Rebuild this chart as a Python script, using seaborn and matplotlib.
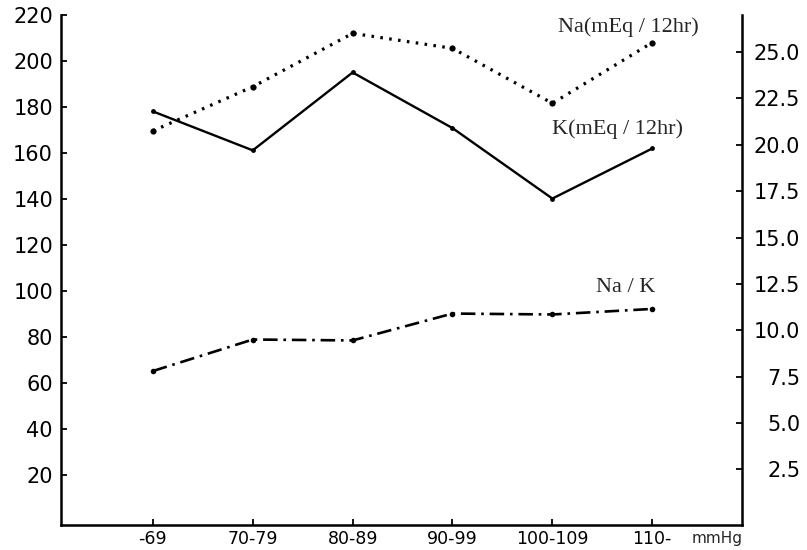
import numpy as np
import pandas as pd
import matplotlib
matplotlib.use("Agg")
import matplotlib.pyplot as plt
import seaborn as sns

# ---------------- data ----------------
groups = ["-69", "70-79", "80-89", "90-99", "100-109", "110-"]
na_meq = [169.6, 188.8, 212.0, 205.5, 181.6, 208.0]      # left axis
k_meq = [21.8, 19.7, 23.9, 20.9, 17.1, 19.8]             # right axis
na_k_ratio = [7.8, 9.5, 9.45, 10.9, 10.85, 11.15]        # right axis

left_ticks = [20, 40, 60, 80, 100, 120, 140, 160, 180, 200, 220]
right_ticks = [2.5, 5.0, 7.5, 10.0, 12.5, 15.0, 17.5, 20.0, 22.5, 25.0]

df = pd.DataFrame({"group": groups, "Na": na_meq, "K": k_meq, "NaK": na_k_ratio})

# ---------------- style ----------------
sns.set_style("ticks")
plt.rcParams["font.family"] = ["DejaVu Sans"]

fig = plt.figure(figsize=(8.07, 5.5), dpi=100)
ax = fig.add_axes([0.0756, 0.0455, 0.844, 0.9273])
ax2 = ax.twinx()

# Na (dotted, left axis)
sns.lineplot(data=df, x="group", y="Na", ax=ax, color="black", lw=2.3,
             marker="o", markersize=4.5, markeredgewidth=0, sort=False)
ax.lines[-1].set_dashes([0.8, 2.0])

# K (solid, right axis)
sns.lineplot(data=df, x="group", y="K", ax=ax2, color="black", lw=1.7,
             marker="o", markersize=3.5, markeredgewidth=0, sort=False)

# Na/K (dash-dot, right axis)
sns.lineplot(data=df, x="group", y="NaK", ax=ax2, color="black", lw=1.9,
             marker="o", markersize=4, markeredgewidth=0, sort=False)
ax2.lines[-1].set_dashes([5.5, 2.2, 1.0, 2.2])

# ---------------- axes ----------------
ax.set_xlim(-0.92, 5.90)
ax.set_ylim(-1.74, 220)
ax2.set_ylim(-0.5, 27.0)

ax.set_yticks(left_ticks)
ax.set_yticklabels([str(t) for t in left_ticks])
ax2.set_yticks(right_ticks)
ax2.set_yticklabels([f"{t:.1f}" for t in right_ticks])
ax.set_xticks(range(len(groups)))
ax.set_xticklabels(groups)

ax.set_xlabel("")
ax.set_ylabel("")
ax2.set_ylabel("")

for a in (ax, ax2):
    for s in a.spines.values():
        s.set_linewidth(1.8)
        s.set_color("black")
ax.spines["top"].set_visible(False)
ax2.spines["top"].set_visible(False)
ax.spines["right"].set_visible(False)
ax2.spines["left"].set_visible(False)
ax2.spines["bottom"].set_visible(False)

ax.tick_params(axis="y", direction="in", length=4, width=1.3, pad=5.8,
               labelsize=15, colors="black")
ax.tick_params(axis="x", direction="in", length=4, width=1.3, pad=3.5,
               labelsize=12.5, colors="black")
ax2.tick_params(axis="y", direction="in", length=4, width=1.3, pad=41.8,
                labelsize=15, colors="black")
for lab in ax2.get_yticklabels():
    lab.set_horizontalalignment("right")

# ---------------- annotations ----------------
serif = ["Liberation Serif", "DejaVu Serif"]
ax.text(4.06, 214.5, "Na(mEq / 12hr)", fontsize=16, family=serif,
        ha="left", va="center")
ax.text(4.00, 170.5, "K(mEq / 12hr)", fontsize=16, family=serif,
        ha="left", va="center")
ax.text(4.44, 101.5, "Na / K", fontsize=16, family=serif,
        ha="left", va="center")
ax.text(5.65, -0.026, "mmHg", fontsize=11, ha="center", va="center",
        transform=ax.get_xaxis_transform())

fig.savefig("out.png", dpi=100)
